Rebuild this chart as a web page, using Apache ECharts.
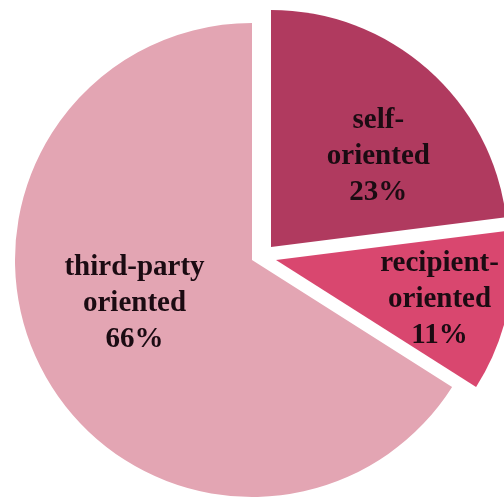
<!DOCTYPE html>
<html>
<head>
<meta charset="utf-8">
<script src="https://cdn.jsdelivr.net/npm/echarts@6/dist/echarts.min.js"></script>
<style>
html,body{margin:0;padding:0;background:#fff;}
#chart{width:504px;height:502px;}
</style>
</head>
<body>
<div id="chart"></div>
<script>
// Data
const categories = ['self-\noriented', 'recipient-\noriented', 'third-party\noriented'];
const shares = [23, 11, 66];

// Styling (not data)
const sliceColors = ['#B03A5F', '#D9476F', '#E3A5B3'];
const sliceCenters = [[271, 247], [276, 260], [252, 260]];
const labelShift = [[27, 1], [45, 13], [-11, -15]];
const R = 237;

const chart = echarts.init(document.getElementById('chart'), null, {renderer: 'canvas'});

const series = categories.map(function (_, k) {
  return {
    type: 'pie',
    center: sliceCenters[k],
    radius: R,
    startAngle: 90,
    clockwise: true,
    avoidLabelOverlap: false,
    animation: false,
    silent: true,
    labelLine: {show: false},
    labelLayout: {dx: labelShift[k][0], dy: labelShift[k][1]},
    label: {
      position: 'inside',
      formatter: '{b}\n{c}%',
      fontFamily: '"Liberation Serif", "Times New Roman", serif',
      fontWeight: 'bold',
      fontSize: 29,
      lineHeight: 36,
      color: '#1b0b12'
    },
    emphasis: {disabled: true},
    data: categories.map(function (name, i) {
      return {
        name: name,
        value: shares[i],
        itemStyle: {color: i === k ? sliceColors[i] : 'rgba(0,0,0,0)'},
        label: {show: i === k}
      };
    })
  };
});

chart.setOption({
  backgroundColor: '#ffffff',
  series: series
});
</script>
</body>
</html>
